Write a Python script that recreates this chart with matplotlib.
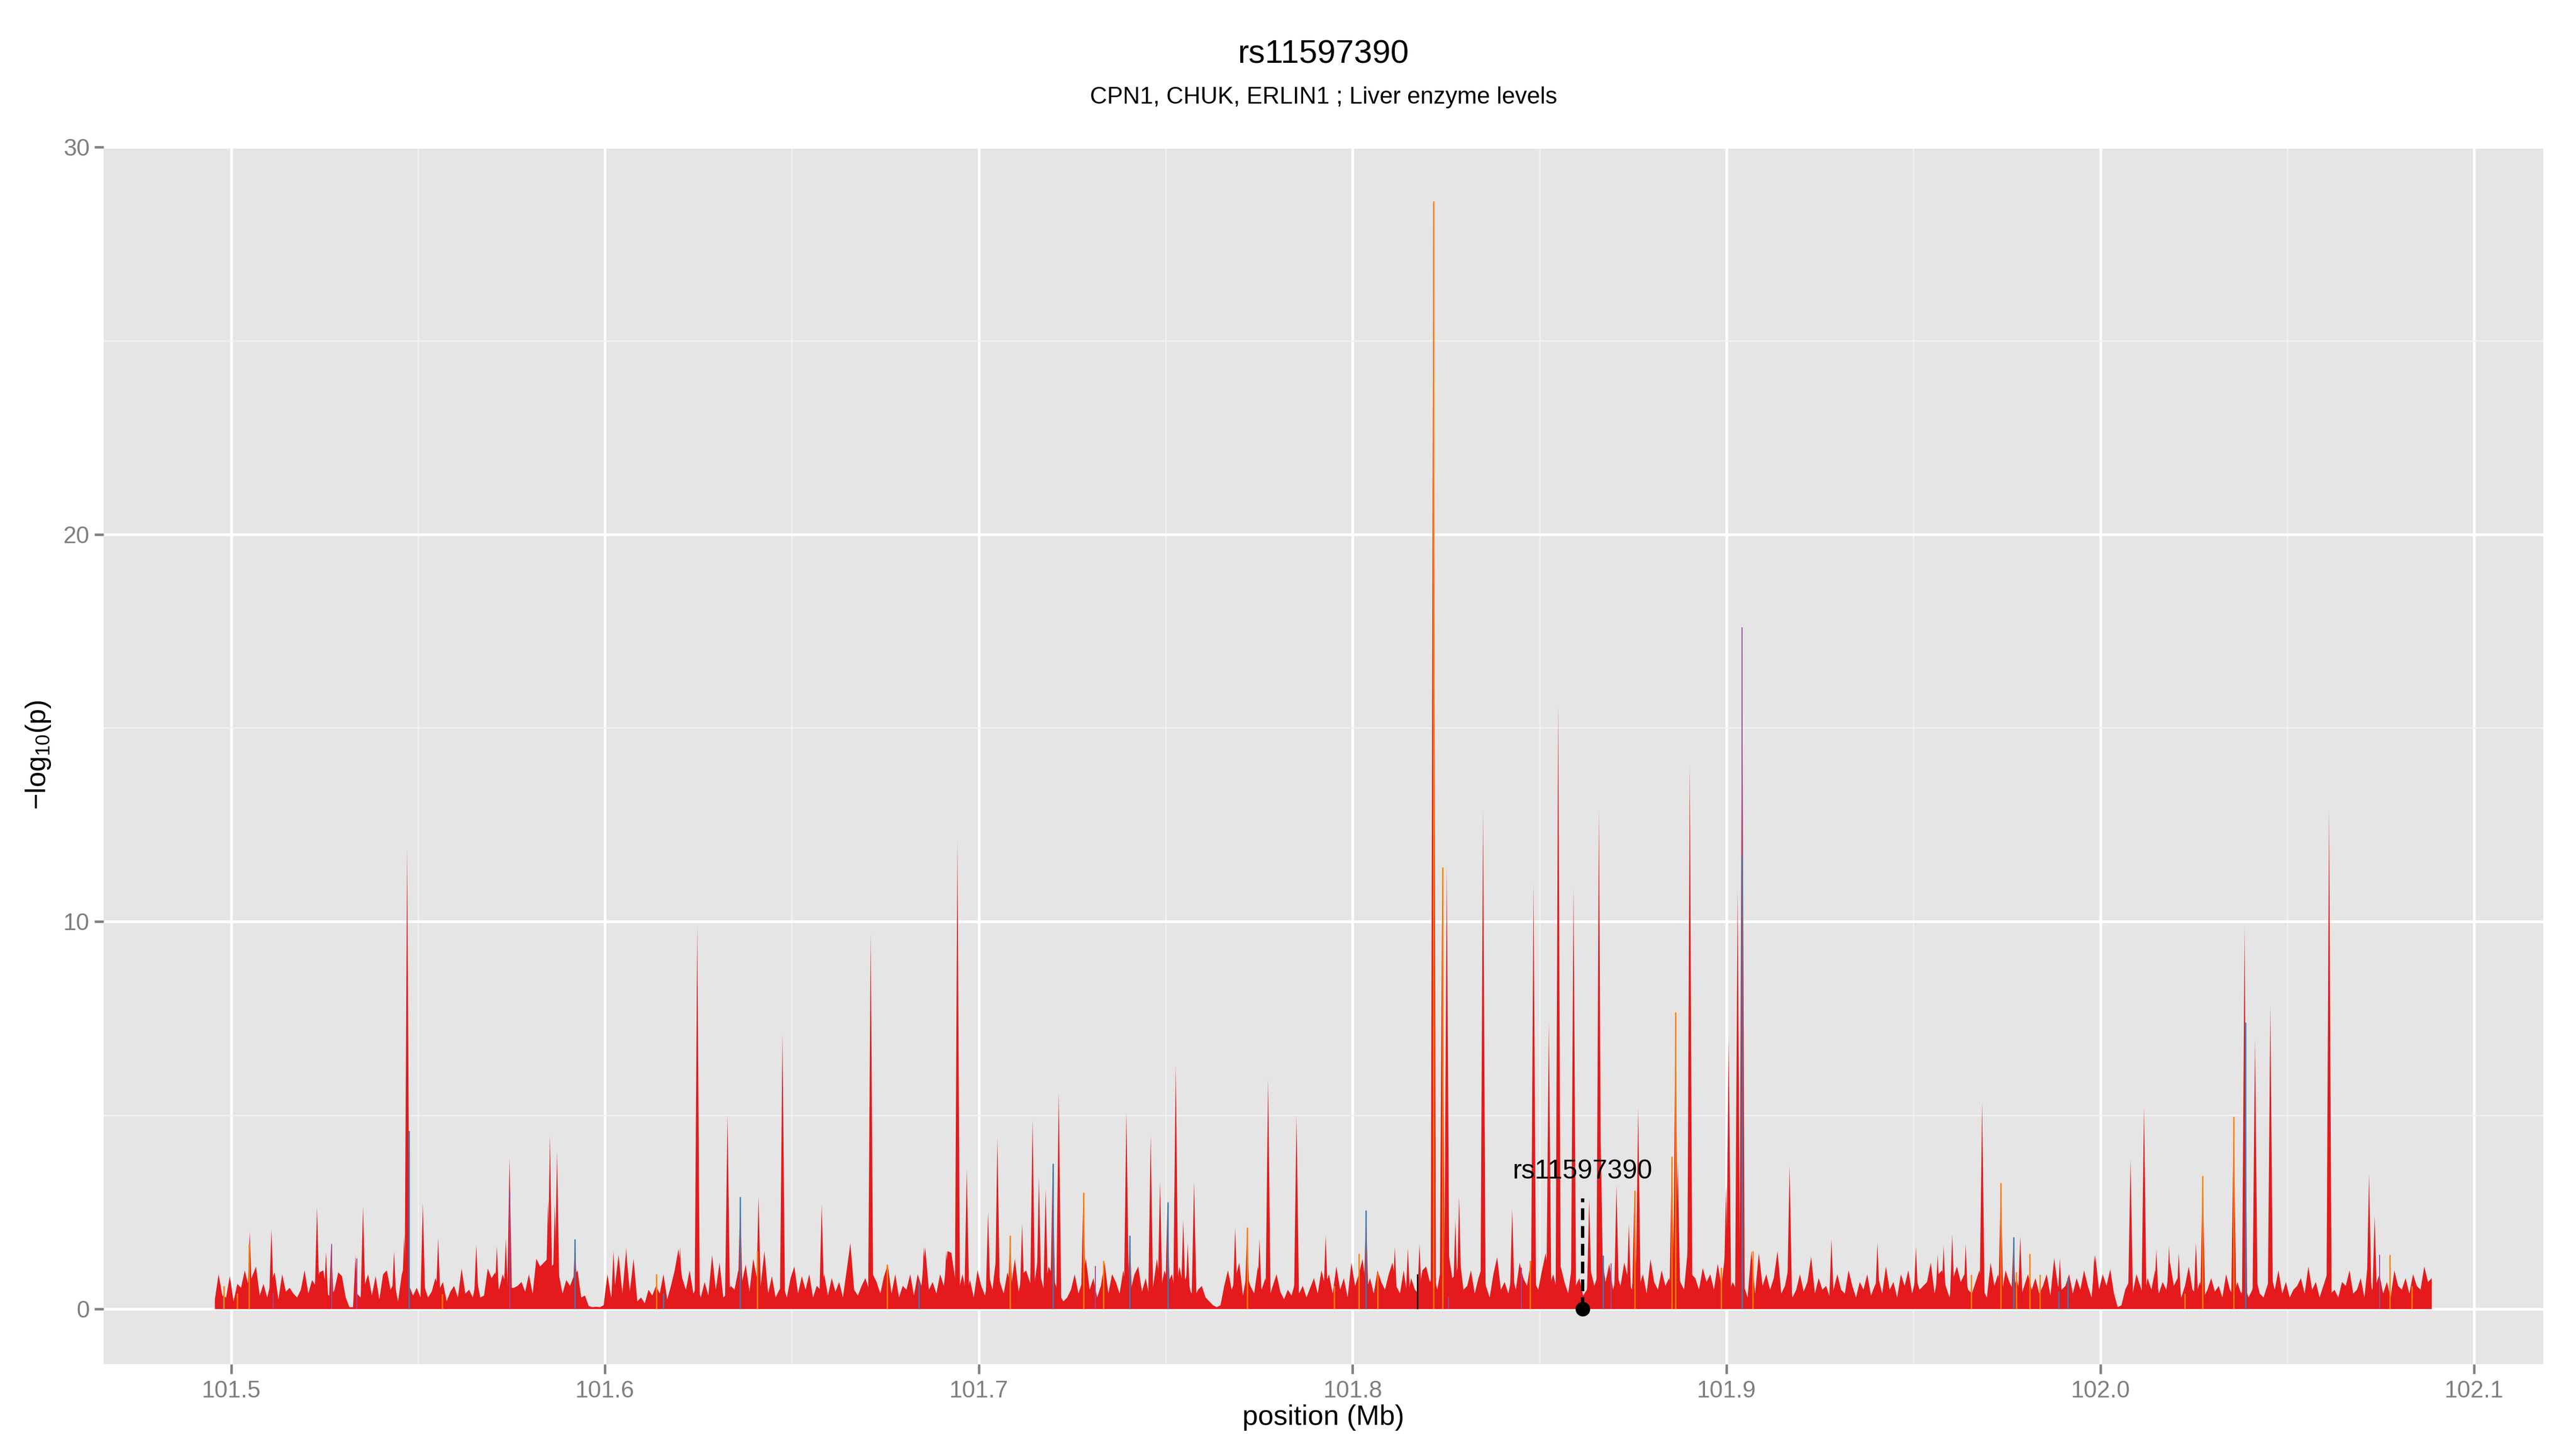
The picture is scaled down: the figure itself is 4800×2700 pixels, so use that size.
import numpy as np
import matplotlib
matplotlib.use("Agg")
import matplotlib.pyplot as plt
from matplotlib.ticker import MultipleLocator

plt.rcParams['font.family'] = ['Liberation Sans', 'DejaVu Sans']
plt.rcParams['mathtext.fontset'] = 'custom'
plt.rcParams['mathtext.rm'] = 'Liberation Sans'
plt.rcParams['mathtext.it'] = 'Liberation Sans:italic'

# ---------------- data ----------------
title = "rs11597390"
subtitle = "CPN1, CHUK, ERLIN1 ; Liver enzyme levels"
lead_snp = "rs11597390"
lead_pos = 101.8615
lead_line_top = 2.85
lead_label_y = 3.55

x_ticks = [101.5, 101.6, 101.7, 101.8, 101.9, 102.0, 102.1]
x_tick_labels = ["101.5", "101.6", "101.7", "101.8", "101.9", "102.0", "102.1"]
y_ticks = [0, 10, 20, 30]
y_tick_labels = ["0", "10", "20", "30"]

# background SNP -log10(p) values on a 1 kb grid starting at 101.4956 Mb
bg_start = 101.4956
bg_step = 0.001
bg_a = [0.25, 0.9, 0.35, 0.3, 0.85, 0.2, 0.65, 0.55, 1.0, 0.6,
        0.85, 1.1, 0.35, 0.65, 0.3, 0.7, 0.95, 0.25, 0.9, 0.45,
        0.55, 0.4, 0.3, 0.5, 1.0, 0.4, 0.75, 0.6, 0.95, 1.0,
        0.4, 0.3, 0.5, 0.95, 0.85, 0.3, 0.05, 0.05, 0.4, 0.3,
        0.6, 0.9, 0.35, 0.85, 0.25, 0.9, 1.0, 0.5, 0.7, 0.2,
        0.9, 1.2, 0.6, 0.35, 0.55, 0.3, 0.6, 0.3, 0.45, 0.8,
        0.5, 0.7, 0.2, 0.45, 0.6, 0.3, 1.05, 0.4, 0.5, 0.3,
        0.8, 0.3, 0.35, 1.05, 0.8, 0.95, 0.5, 0.9, 0.6, 0.55,
        0.55, 0.6, 0.7, 0.45, 0.9, 0.4, 1.3, 1.1, 1.2, 1.3,
        1.1, 1.2, 0.9, 0.4, 0.75, 0.6, 0.85, 1.0, 0.3]
bg_b = [0.35, 0.08, 0.05, 0.06, 0.05, 0.1, 0.9, 0.3, 0.6, 1.4,
        0.4, 1.5, 0.45, 1.3, 0.2, 0.3, 0.15, 0.5, 0.35, 0.6,
        0.4, 0.9, 0.25, 0.6, 1.0, 1.55, 0.8, 0.5, 1.0, 0.4,
        0.6, 0.3, 0.7, 0.35, 1.4, 0.5, 1.2, 0.3, 0.4, 0.6,
        0.5, 1.0, 0.7, 1.15, 0.45, 1.3, 0.8, 0.6, 1.5, 0.4,
        0.85, 0.3, 0.5, 0.6, 0.3, 0.8, 1.1, 0.4, 0.85, 0.5,
        0.9, 0.3, 0.6, 0.5, 0.9, 0.35, 0.8, 0.45, 0.7, 0.3,
        1.0, 1.7, 0.5, 0.35, 0.6, 0.8, 0.5, 0.9, 0.7, 0.4,
        0.85, 1.15, 0.4, 0.9, 0.3, 0.6, 0.5, 0.9, 0.35, 0.9,
        0.6, 1.6, 0.5, 0.7, 0.4, 0.9, 0.6, 1.5, 1.45]
bg_c = [0.8, 0.5, 0.9, 0.4, 0.75, 0.3, 1.0, 0.6, 0.35, 0.9,
        0.5, 1.35, 0.7, 0.4, 0.95, 0.6, 1.3, 0.45, 0.9, 1.0,
        0.7, 0.5, 1.2, 0.8, 0.4, 1.1, 0.9, 0.6, 0.35, 0.2,
        0.3, 0.5, 0.9, 0.4, 0.7, 1.3, 0.5, 0.8, 0.3, 0.6,
        1.2, 0.4, 0.9, 0.7, 0.4, 1.0, 0.35, 0.5, 0.9, 1.1,
        0.45, 0.8, 0.3, 0.6, 1.3, 0.5, 1.0, 0.7, 0.9, 0.4,
        1.1, 0.6, 0.9, 0.45, 0.3, 0.5, 0.6, 0.3, 0.2, 0.1,
        0.05, 0.1, 0.6, 1.0, 0.5, 0.8, 1.2, 0.35, 0.9, 0.6,
        0.4, 1.1, 0.5, 0.8, 0.3, 0.6, 0.9, 0.45, 0.25, 0.5,
        0.35, 0.7, 0.4, 0.6, 0.3, 0.55, 0.8, 0.4, 1.0]
bg_d = [0.6, 0.9, 0.4, 1.1, 0.5, 0.8, 0.3, 1.2, 0.6, 0.9,
        1.3, 0.5, 0.8, 0.4, 1.0, 0.7, 0.5, 0.9, 1.2, 0.6,
        0.4, 1.0, 0.3, 0.8, 0.5, 0.4, 1.0, 1.1, 0.7, 0.9,
        0.5, 1.1, 0.6, 1.45, 0.8, 0.9, 1.3, 0.5, 0.6, 1.0,
        0.4, 0.8, 1.1, 0.6, 0.3, 0.9, 1.34, 0.5, 0.7, 0.4,
        0.9, 0.5, 1.2, 0.8, 0.6, 1.24, 0.7, 0.5, 1.0, 1.45,
        0.6, 0.9, 0.5, 1.1, 0.7, 0.4, 1.13, 0.6, 0.8, 0.35,
        0.5, 1.0, 0.6, 0.9, 1.38, 0.7, 1.17, 0.5, 0.9, 0.6,
        1.2, 0.8, 0.5, 1.31, 0.6, 0.9, 0.4, 1.29, 0.7, 0.5,
        1.0, 0.6, 0.8, 0.4, 1.1, 0.7, 0.5, 1.54, 0.9]
bg_e = [0.8, 0.5, 1.06, 0.7, 0.9, 0.5, 1.17, 0.6, 1.45, 0.4,
        0.7, 0.5, 0.9, 0.6, 0.3, 1.5, 0.4, 1.45, 0.6, 0.9,
        0.5, 0.8, 1.5, 0.4, 0.6, 1.1, 0.3, 0.5, 0.9, 0.45,
        0.7, 1.35, 0.4, 0.8, 0.5, 0.6, 0.3, 0.5, 0.9, 0.5,
        0.4, 1.0, 0.6, 0.3, 0.7, 0.5, 0.9, 0.35, 0.6, 0.8,
        0.4, 1.1, 0.5, 0.7, 0.3, 0.9, 0.6, 1.0, 0.4, 0.8,
        0.5, 0.6, 0.7, 1.2, 0.4, 0.9, 1.0, 0.6, 0.3, 0.8,
        1.1, 0.7, 0.9, 0.5, 0.4, 0.7, 1.0, 0.5, 0.3, 1.2,
        0.6, 0.9, 0.4, 1.0, 0.7, 0.5, 0.8, 0.3, 0.6, 0.9,
        0.5, 0.8, 0.4, 0.6, 0.9, 0.35, 1.31, 0.6, 0.5]
bg_f = [0.6, 0.9, 0.4, 0.8, 0.5, 1.0, 0.6, 0.3, 1.39, 0.5,
        0.9, 0.6, 1.03, 0.4, 0.05, 0.1, 0.5, 0.7, 0.4, 0.9,
        0.6, 0.3, 0.8, 0.5, 1.0, 0.4, 0.7, 0.5, 1.2, 0.6,
        0.8, 0.3, 0.6, 1.1, 0.5, 0.4, 0.7, 0.3, 0.5, 0.8,
        0.45, 0.6, 0.3, 0.9, 0.5, 0.35, 0.7, 0.4, 0.6, 0.3,
        0.5, 0.8, 0.4, 0.3, 0.6, 0.9, 0.5, 1.0, 0.4, 0.7,
        0.3, 0.5, 0.6, 0.8, 0.4, 1.1, 0.5, 0.7, 0.3, 0.6,
        0.9, 0.4, 0.5, 0.3, 0.7, 0.6, 1.0, 0.4, 0.5, 0.8,
        0.3, 1.3, 0.5, 0.6, 0.9, 0.4, 0.7, 0.3, 1.0, 0.6,
        0.5, 0.8, 0.4, 0.9, 0.6, 0.5, 1.1, 0.7, 0.8]

# prominent SNP peaks (position Mb, -log10 p)
peak_pos = [101.5050, 101.5108, 101.5230, 101.5254, 101.5268, 101.5333, 101.5353,
            101.5436, 101.5463, 101.5471, 101.5513, 101.5554, 101.5656, 101.5711,
            101.5735, 101.5745, 101.5848, 101.5853, 101.5866, 101.5872, 101.5920,
            101.6023, 101.6057, 101.6201, 101.6247, 101.6328, 101.6362, 101.6411,
            101.6475, 101.6580, 101.6656, 101.6711, 101.6853, 101.6913, 101.6943,
            101.6968, 101.7025, 101.7050, 101.7084, 101.7116, 101.7144, 101.7161,
            101.7179, 101.7198, 101.7214, 101.7280, 101.7395, 101.7404, 101.7460,
            101.7485, 101.7505, 101.7527, 101.7547, 101.7559, 101.7576, 101.7686,
            101.7718, 101.7751, 101.7774, 101.7850, 101.7928, 101.8036, 101.8113,
            101.8148, 101.8179, 101.8216, 101.8240, 101.8252, 101.8275, 101.8285,
            101.8349, 101.8427, 101.8484, 101.8525, 101.8550, 101.8591, 101.8633,
            101.8659, 101.8664, 101.8706, 101.8739, 101.8754, 101.8764, 101.8854,
            101.8864, 101.8870, 101.8902, 101.8999, 101.9006, 101.9030, 101.9042,
            101.9169, 101.9281, 101.9404, 101.9507, 101.9565, 101.9581, 101.9604,
            101.9640, 101.9684, 101.9734, 101.9768, 101.9786, 101.9892, 101.9984,
            102.0081, 102.0117, 102.0150, 102.0184, 102.0210, 102.0256, 102.0274,
            102.0357, 102.0386, 102.0414, 102.0455, 102.0612, 102.0719, 102.0734]
peak_val = [2.0, 2.06, 2.63, 1.46, 1.7, 1.37, 2.64,
            1.49, 1.88, 11.9, 2.73, 1.83, 1.66, 1.62,
            1.82, 3.9, 2.8, 4.5, 2.7, 4.06, 1.8,
            1.5, 1.6, 1.6, 9.9, 5.0, 2.9, 2.9,
            7.1, 2.7, 1.7, 9.7, 1.6, 1.5, 12.1,
            3.6, 2.5, 4.4, 1.9, 2.2, 4.9, 3.4,
            3.1, 3.75, 5.6, 3.0, 5.1, 1.9, 4.5,
            3.3, 2.75, 6.3, 2.3, 1.7, 3.3, 2.1,
            2.1, 1.8, 5.96, 5.0, 1.9, 2.55, 1.6,
            1.57, 1.68, 28.6, 11.4, 11.45, 2.3, 2.9,
            12.9, 2.58, 11.0, 7.4, 15.6, 10.9, 2.83,
            12.9, 4.35, 3.2, 2.19, 3.06, 5.2, 3.94,
            7.66, 3.76, 14.07, 3.16, 7.0, 10.85, 17.6,
            3.7, 1.8, 1.7, 1.6, 1.4, 1.63, 1.92,
            1.67, 5.35, 3.26, 1.85, 1.87, 1.31, 1.39,
            3.87, 5.23, 1.53, 1.63, 1.44, 1.7, 3.43,
            4.96, 9.87, 6.98, 7.85, 12.9, 3.48, 2.4]

# SNPs in other LD classes, drawn over the red area
accent_pos = [101.4979, 101.4980, 101.5016, 101.5048, 101.5113, 101.5269, 101.5336,
              101.5476, 101.5565, 101.5745, 101.5920, 101.6138, 101.6156, 101.6362,
              101.6407, 101.6755, 101.6839, 101.7084, 101.7198, 101.7280, 101.7312,
              101.7334, 101.7404, 101.7505, 101.7718, 101.7951, 101.8017, 101.8036,
              101.8067, 101.8173, 101.8216, 101.8240, 101.8256, 101.8452, 101.8475,
              101.8670, 101.8691, 101.8754, 101.8854, 101.8864, 101.8986, 101.9042,
              101.9042, 101.9071, 101.9655, 101.9734, 101.9768, 101.9775, 101.9811,
              101.9838, 101.9888, 101.9913, 102.0226, 102.0274, 102.0357, 102.0388,
              102.0747, 102.0774, 102.0833]
accent_val = [0.3, 0.6, 0.4, 1.67, 0.4, 1.67, 1.3,
              4.6, 0.38, 3.0, 1.8, 0.9, 0.4, 2.9,
              1.5, 1.15, 0.7, 1.9, 3.75, 3.0, 1.1,
              1.25, 1.9, 2.75, 2.1, 0.6, 1.43, 2.55,
              0.92, 0.9, 28.6, 11.4, 0.3, 1.06, 1.24,
              1.38, 1.17, 3.06, 3.94, 7.66, 1.06, 17.6,
              11.7, 1.5, 0.88, 3.26, 1.85, 0.95, 1.42,
              0.88, 0.45, 0.8, 0.4, 3.43, 4.96, 7.4,
              1.4, 1.4, 0.6]
accent_cls = ["b", "o", "o", "o", "p", "p", "p",
              "b", "o", "p", "b", "o", "b", "b",
              "o", "o", "b", "o", "b", "o", "p",
              "o", "b", "b", "o", "o", "o", "b",
              "o", "k", "o", "o", "p", "p", "o",
              "b", "p", "o", "o", "o", "o", "p",
              "b", "o", "o", "o", "b", "o", "o",
              "o", "b", "b", "o", "o", "o", "b",
              "p", "o", "o"]

# ---------------- styling ----------------
RED = "#E41A1C"
CLS_COL = {"o": "#FF7F00", "b": "#377EB8", "p": "#984EA3", "k": "#000000"}
PEAK_HALF_WIDTH = 0.0007

fig = plt.figure(figsize=(16, 9), dpi=300)
W, H = 4800.0, 2700.0
pl, pr, pt, pb = 193, 4739, 272, 2542
ax = fig.add_axes([pl / W, 1 - pb / H, (pr - pl) / W, (pb - pt) / H])
ax.set_facecolor("#E5E5E5")
for s in ax.spines.values():
    s.set_visible(False)

bg_vals = np.array(bg_a + bg_b + bg_c + bg_d + bg_e + bg_f)
bg_x = bg_start + bg_step * np.arange(len(bg_vals))
ax.fill_between(bg_x, 0, bg_vals, color=RED, linewidth=0, zorder=2)

for p, v in zip(peak_pos, peak_val):
    ax.fill([p - PEAK_HALF_WIDTH, p, p + PEAK_HALF_WIDTH], [0, v, 0],
            color=RED, linewidth=0, zorder=3)

for p, v, c in zip(accent_pos, accent_val, accent_cls):
    ax.vlines(p, 0, v, colors=CLS_COL[c], linewidth=0.45 if c == "p" else 0.6, zorder=4)

# lead SNP marker
ax.plot([lead_pos, lead_pos], [0, lead_line_top], color="black", lw=1.5,
        linestyle=(0, (3.5, 1.8)), zorder=6, dash_capstyle="butt")
ax.plot([lead_pos], [0], "o", color="black", ms=5.5, zorder=7)
ax.text(lead_pos, lead_label_y, lead_snp, ha="center", va="center", fontsize=12, zorder=8)

# axes
ax.set_xlim(101.4659, 102.1185)
ax.set_ylim(-1.43, 30.03)
ax.set_xticks(x_ticks)
ax.set_xticklabels(x_tick_labels)
ax.set_yticks(y_ticks)
ax.set_yticklabels(y_tick_labels)
ax.xaxis.set_minor_locator(MultipleLocator(0.05))
ax.yaxis.set_minor_locator(MultipleLocator(5))
ax.set_axisbelow(True)
ax.grid(which="major", color="white", linewidth=1.2)
ax.grid(which="minor", color="#F2F2F2", linewidth=0.6)
ax.tick_params(which="major", length=4.2, width=1.1, color="#7F7F7F",
               labelcolor="#7F7F7F", labelsize=10.6, pad=3)
ax.tick_params(axis="y", pad=2)
ax.tick_params(which="minor", length=0)

cx = (pl + pr) / 2 / W
fig.text(cx, 1 - 118 / H, title, ha="center", va="baseline", fontsize=14.7)
fig.text(cx, 1 - 193 / H, subtitle, ha="center", va="baseline", fontsize=10.6)
fig.text(cx, 1 - 2655 / H, "position (Mb)", ha="center", va="baseline", fontsize=12.5)
fig.text(72 / W, 1 - (pt + pb) / 2 / H, r"$\mathregular{-log_{10}(p)}$", ha="center",
         va="center", rotation=90, fontsize=12.5)

fig.savefig("out.png", dpi=300)
